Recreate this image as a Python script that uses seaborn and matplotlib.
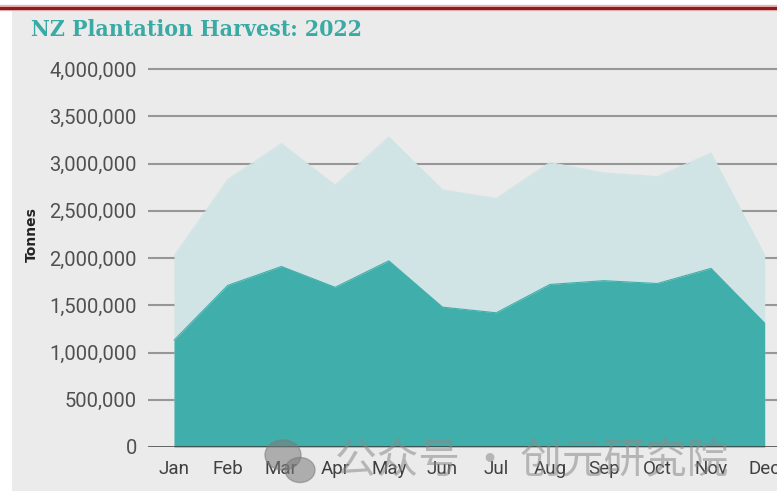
import matplotlib
matplotlib.use("Agg")
import matplotlib.pyplot as plt
from matplotlib.patches import Rectangle, Ellipse
from matplotlib.lines import Line2D
from matplotlib.ticker import FuncFormatter
import seaborn as sns
import pandas as pd

# Monthly NZ plantation harvest, 2022 (tonnes)
months = ["Jan", "Feb", "Mar", "Apr", "May", "Jun",
          "Jul", "Aug", "Sep", "Oct", "Nov", "Dec"]
total_harvest = [2020000, 2830000, 3210000, 2770000, 3280000, 2720000,
                 2630000, 3010000, 2900000, 2860000, 3110000, 2030000]
export_logs = [1130000, 1710000, 1910000, 1690000, 1970000, 1480000,
               1420000, 1720000, 1760000, 1730000, 1890000, 1310000]
y_ticks = [0, 500000, 1000000, 1500000, 2000000, 2500000, 3000000, 3500000, 4000000]

df = pd.DataFrame({"month": months, "idx": range(len(months)),
                   "total": total_harvest, "export": export_logs})

sns.set_theme(style="white")
plt.rcParams["font.family"] = ["DejaVu Sans"]

W, H = 777, 491
fig = plt.figure(figsize=(W / 100, H / 100), dpi=100)
fig.patch.set_facecolor("white")

# panel background and top rule
fig.add_artist(Rectangle((12 / W, 0), 1 - 12 / W, (H - 11) / H,
                         transform=fig.transFigure, facecolor="#ebebeb",
                         edgecolor="none", zorder=0))
fig.add_artist(Line2D([0, 1], [(H - 7.5) / H] * 2, transform=fig.transFigure,
                      color="#e3b0b0", lw=4.5, zorder=1))
fig.add_artist(Line2D([0, 1], [(H - 7.5) / H] * 2, transform=fig.transFigure,
                      color="#8e1b1b", lw=2.2, zorder=2))

# axes geometry (pixels)
left_px, right_px = 148, 777
base_px = 447
px_per_unit = 378 / 4.0e6
ymax = 4.1e6
top_px = base_px - ymax * px_per_unit
ax = fig.add_axes([left_px / W, (H - base_px) / H,
                   (right_px - left_px) / W, (base_px - top_px) / H])
ax.set_facecolor("none")

step = 53.7
x0 = (left_px - 174) / step
x1 = (right_px - 174) / step
ax.set_xlim(x0, x1)
ax.set_ylim(0, ymax)

light = "#d0e4e6"
dark = "#40aeaa"
ax.fill_between(df["idx"], 0, df["total"], color=light, lw=0, zorder=2)
ax.fill_between(df["idx"], 0, df["export"], color=dark, lw=0, zorder=3)
sns.lineplot(data=df, x="idx", y="total", ax=ax, color=light, lw=0.8, zorder=2)
sns.lineplot(data=df, x="idx", y="export", ax=ax, color=dark, lw=0.8, zorder=3)

for v in y_ticks[1:]:
    ax.axhline(v, color="#979797", lw=1.5, zorder=1)
ax.axhline(0, color="#3a3a3a", lw=1.8, zorder=4)

for s in ax.spines.values():
    s.set_visible(False)

tick_font = ["Roboto", "DejaVu Sans"]
ax.set_yticks(y_ticks)
ax.yaxis.set_major_formatter(FuncFormatter(lambda v, p: f"{int(v):,}"))
ax.set_xticks(df["idx"])
ax.set_xticklabels(months)
ax.tick_params(axis="y", length=0, pad=8, labelsize=14.5, labelcolor="#505050")
ax.tick_params(axis="x", length=0, pad=9, labelsize=13.5, labelcolor="#404040")
for lab in ax.get_yticklabels() + ax.get_xticklabels():
    lab.set_family(tick_font)
ax.set_xlabel("")
ax.set_ylabel("")

fig.text(32 / W, 1 - 235 / H, "Tonnes", rotation=90, ha="center", va="center",
         fontsize=10, fontweight="bold", color="#222222")

fig.text(31 / W, 1 - 30 / H, "NZ Plantation Harvest: 2022", ha="left",
         va="center", fontsize=16.5, fontweight="bold", color="#3aaba4",
         fontstretch="condensed", family=["DejaVu Serif"])

# account watermark
fig.add_artist(Ellipse((283 / W, 1 - 455 / H), 36 / W, 30 / H,
                       transform=fig.transFigure, color="#7a7a7a", alpha=0.55,
                       zorder=6))
fig.add_artist(Ellipse((300 / W, 1 - 470 / H), 30 / W, 25 / H,
                       transform=fig.transFigure, color="#7a7a7a", alpha=0.55,
                       zorder=6))
fig.text(532 / W, 1 - 462 / H, "公众号 · 创元研究院", ha="center", va="center",
         fontsize=30, color="#8a8a8a", alpha=0.55, zorder=7,
         family=["Noto Sans CJK SC", "DejaVu Sans"])

fig.savefig("out.png", dpi=100, facecolor=fig.get_facecolor())
